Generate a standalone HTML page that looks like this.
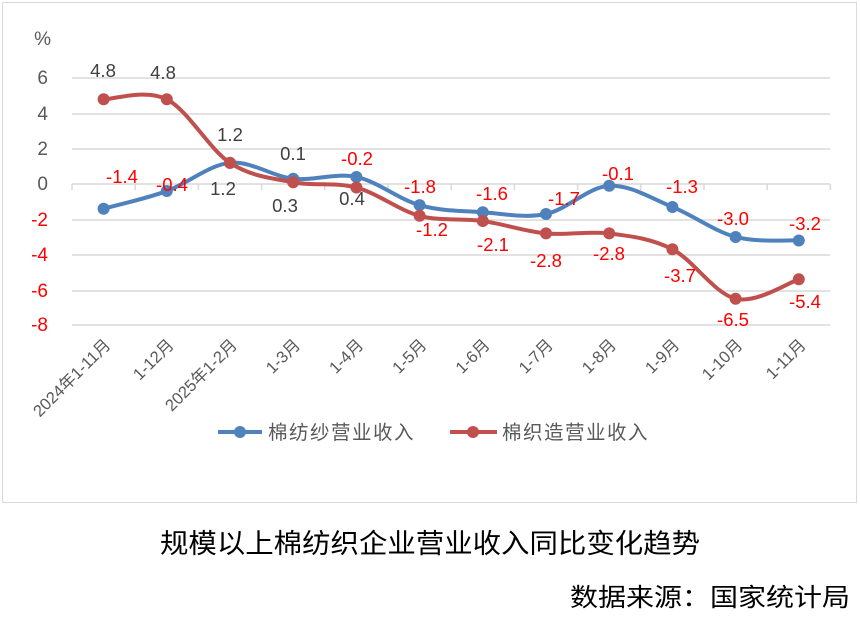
<!DOCTYPE html>
<html><head><meta charset="utf-8"><style>
body{margin:0;background:#fff;width:860px;height:615px;overflow:hidden}
text{font-family:"Liberation Sans","Noto Sans CJK SC",sans-serif}
</style></head><body>
<svg id="s" width="860" height="615" xmlns="http://www.w3.org/2000/svg">
<rect x="2.5" y="2.5" width="854" height="500" fill="#fff" stroke="#d9d9d9"/>
<g stroke="#d9d9d9" stroke-width="1.5">
<line x1="72" x2="830" y1="78" y2="78"/><line x1="72" x2="830" y1="114" y2="114"/>
<line x1="72" x2="830" y1="149" y2="149"/><line x1="72" x2="830" y1="184" y2="184"/>
<line x1="72" x2="830" y1="220" y2="220"/><line x1="72" x2="830" y1="255" y2="255"/>
<line x1="72" x2="830" y1="291" y2="291"/><line x1="72" x2="830" y1="325" y2="325"/>
</g>
<g id="ticks" stroke="#d9d9d9" stroke-width="1.5"></g>
<g font-size="19" text-anchor="end">
<text x="48" y="84" fill="#595959">6</text><text x="48" y="120" fill="#595959">4</text>
<text x="48" y="155" fill="#595959">2</text><text x="48" y="190" fill="#595959">0</text>
<text x="48" y="226" fill="#ff0000">-2</text><text x="48" y="261" fill="#ff0000">-4</text>
<text x="48" y="297" fill="#ff0000">-6</text><text x="48" y="331" fill="#ff0000">-8</text>
<text x="51" y="45" fill="#595959">%</text>
</g>
<g id="series"></g>
<g id="xl" font-size="16.5" fill="#595959" text-anchor="end"></g>
<g font-size="18.5" text-anchor="middle" fill="#404040">
<text x="103" y="77">4.8</text><text x="163" y="79">4.8</text><text x="230" y="141">1.2</text><text x="293" y="160">0.1</text>
<text x="223" y="195">1.2</text><text x="285" y="212">0.3</text><text x="352" y="205">0.4</text>
</g>
<g font-size="18.5" text-anchor="middle" fill="#ff0000">
<text x="357" y="165">-0.2</text><text x="420" y="193">-1.8</text>
<text x="122" y="183">-1.4</text><text x="172" y="191">-0.4</text><text x="432" y="236">-1.2</text>
<text x="492" y="200">-1.6</text><text x="564" y="205">-1.7</text><text x="618" y="180">-0.1</text>
<text x="682" y="193">-1.3</text><text x="733" y="225">-3.0</text><text x="805" y="230">-3.2</text>
<text x="493" y="251">-2.1</text><text x="546" y="267">-2.8</text><text x="609" y="260">-2.8</text>
<text x="680" y="282">-3.7</text><text x="733" y="326">-6.5</text><text x="805" y="308">-5.4</text>
</g>
<g>
<line x1="218" x2="262" y1="432" y2="432" stroke="#4f81bd" stroke-width="4"/><circle cx="240" cy="432" r="6" fill="#4f81bd"/>
<text x="268" y="439" font-size="19.5" fill="#595959" letter-spacing="1.5">棉纺纱营业收入</text>
<line x1="450" x2="497" y1="432" y2="432" stroke="#c0504d" stroke-width="4"/><circle cx="473" cy="432" r="6" fill="#c0504d"/>
<text x="502" y="439" font-size="19.5" fill="#595959" letter-spacing="1.5">棉织造营业收入</text>
</g>
<text x="160" y="553" font-size="27" fill="#000" textLength="540" lengthAdjust="spacingAndGlyphs">规模以上棉纺织企业营业收入同比变化趋势</text>
<text x="570" y="606" font-size="25" fill="#000" textLength="280" lengthAdjust="spacingAndGlyphs">数据来源：国家统计局</text>
</svg>
<script>
var NS="http://www.w3.org/2000/svg";
function X(i){return 103.6+63.2*i}
function Y(v){return 184-17.65*v}
var t=document.getElementById('ticks');
for(var i=0;i<=12;i++){var l=document.createElementNS(NS,'line');var x=72+63.2*i;l.setAttribute('x1',x);l.setAttribute('x2',x);l.setAttribute('y1',184);l.setAttribute('y2',190);t.appendChild(l);}
var cats=["2024年1-11月","1-12月","2025年1-2月","1-3月","1-4月","1-5月","1-6月","1-7月","1-8月","1-9月","1-10月","1-11月"];
var xl=document.getElementById('xl');
cats.forEach(function(c,i){var e=document.createElementNS(NS,'text');var x=X(i)+8,y=346;e.setAttribute('x',x);e.setAttribute('y',y);e.setAttribute('transform','rotate(-45 '+x+' '+y+')');e.textContent=c;xl.appendChild(e);});
var blue=[-1.4,-0.4,1.2,0.3,0.4,-1.2,-1.6,-1.7,-0.1,-1.3,-3.0,-3.2];
var red=[4.8,4.8,1.2,0.1,-0.2,-1.8,-2.1,-2.8,-2.8,-3.7,-6.5,-5.4];
var g=document.getElementById('series');
function draw(d,col){var p=d.map(function(v,i){return[X(i),Y(v)]});var s="M"+p[0][0]+","+p[0][1];
for(var i=0;i<p.length-1;i++){var p0=p[i-1]||p[i],p1=p[i],p2=p[i+1],p3=p[i+2]||p2;var k=1/6;
s+=" C"+(p1[0]+(p2[0]-p0[0])*k)+","+(p1[1]+(p2[1]-p0[1])*k)+" "+(p2[0]-(p3[0]-p1[0])*k)+","+(p2[1]-(p3[1]-p1[1])*k)+" "+p2[0]+","+p2[1];}
var e=document.createElementNS(NS,'path');e.setAttribute('d',s);e.setAttribute('fill','none');e.setAttribute('stroke',col);e.setAttribute('stroke-width','4');g.appendChild(e);
p.forEach(function(q){var c=document.createElementNS(NS,'circle');c.setAttribute('cx',q[0]);c.setAttribute('cy',q[1]);c.setAttribute('r',6);c.setAttribute('fill',col);g.appendChild(c);});}
draw(blue,'#4f81bd');draw(red,'#c0504d');
</script>
</body></html>
